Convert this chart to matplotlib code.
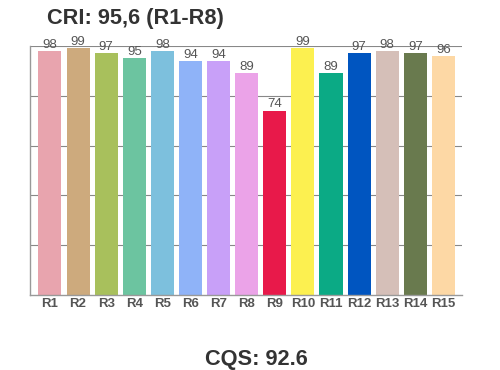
import matplotlib
matplotlib.use("Agg")
import matplotlib.pyplot as plt

categories = ["R1", "R2", "R3", "R4", "R5", "R6", "R7", "R8", "R9", "R10", "R11", "R12", "R13", "R14", "R15"]
values = [98, 99, 97, 95, 98, 94, 94, 89, 74, 99, 89, 97, 98, 97, 96]
colors = ["#E8A4AE", "#CDAA7D", "#A8C05C", "#6CC4A0", "#7DC0DD", "#8FB3F8", "#C8A0F8", "#EBA3E8",
          "#E8194A", "#FCF050", "#0BAA85", "#0055C0", "#D5BFB8", "#697A4E", "#FDD8A5"]
title = "CRI: 95,6 (R1-R8)"
footer = "CQS: 92.6"

plt.rcParams['font.family'] = ['Liberation Sans', 'DejaVu Sans']

fig = plt.figure(figsize=(5, 3.7), dpi=100)
ax = fig.add_axes([0.06, 0.2027, 0.864, 0.673])

x = list(range(len(categories)))
bars = ax.bar(x, values, width=0.82, color=colors, zorder=2)
for xi, v in zip(x, values):
    ax.annotate(str(v), (xi, v), xytext=(0, 0.3), textcoords="offset points",
                ha="center", va="bottom", fontsize=9.5, color="#555555")

ax.set_ylim(0, 100)
ax.set_xlim(-0.71, 14.66)
ax.set_yticks([20, 40, 60, 80, 100])
ax.yaxis.grid(True, color="#888888", linewidth=0.8, zorder=0)
ax.set_axisbelow(True)
ax.tick_params(axis="y", length=0, labelleft=False)
ax.set_xticks(x)
ax.set_xticklabels(categories, fontsize=9.5, fontweight="bold", color="#555555")
ax.tick_params(axis="x", length=0, pad=2)
for s in ["top", "right"]:
    ax.spines[s].set_visible(False)
for s in ["left", "bottom"]:
    ax.spines[s].set_color("#999999")
    ax.spines[s].set_linewidth(1.0)

fig.text(47 / 500, 1 - 24 / 370, title, fontsize=15.7, fontweight="bold", color="#333333",
         ha="left", va="baseline")
fig.text(256 / 500, 1 - 349 / 370, footer, fontsize=15.7, fontweight="bold", color="#333333",
         ha="center", va="top")

fig.savefig("out.png", dpi=100)
